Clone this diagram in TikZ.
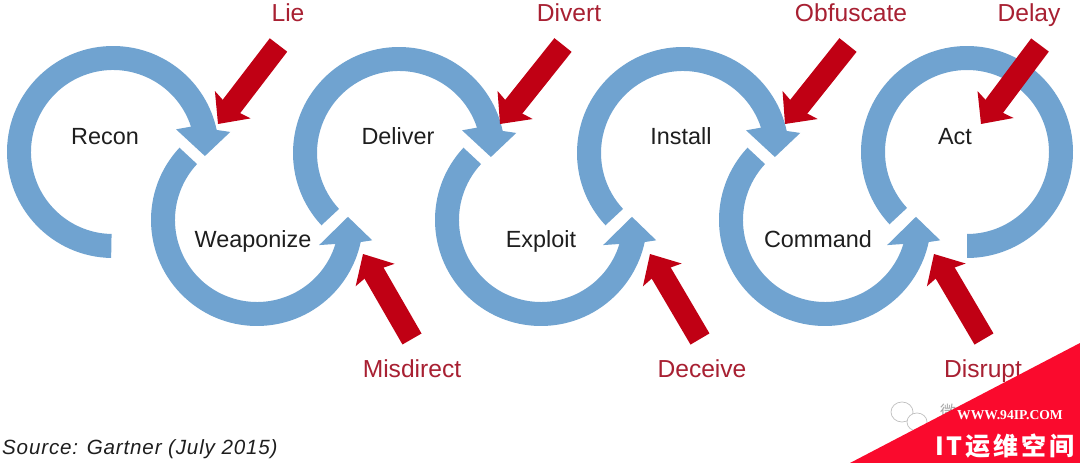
\documentclass[tikz,border=0pt]{standalone}
\usepackage{fontspec}
\setmainfont{Liberation Sans}
\newfontfamily\cjkfont{Noto Sans CJK SC}
\newfontfamily\brandfont[LetterSpace=12]{Noto Sans CJK SC}
\newfontfamily\markfont{Liberation Serif}
\newfontfamily\sourcefont[LetterSpace=4]{Liberation Sans}
\usetikzlibrary{arrows.meta}
\definecolor{ringblue}{RGB}{112, 163, 208}
\definecolor{attackred}{RGB}{192, 0, 20}
\definecolor{labelred}{RGB}{168, 32, 50}
\definecolor{stepblack}{RGB}{30, 30, 30}
\definecolor{bannerred}{RGB}{250, 10, 45}
\tikzset{
  steplabel/.style={anchor=base, text=stepblack, font=\fontsize{23.4}{26}\selectfont},
  tacticlabel/.style={anchor=base, text=labelred, font=\fontsize{24.6}{26}\selectfont},
  redarrow/.style={attackred, line width=22pt, -{Stealth[length=24pt, width=44pt, inset=4pt]}}
}
% ring that runs over the top and ends in a head
\newcommand{\topring}[2]{
  \fill[ringblue, shift={(#1)}] (#2:106) arc[start angle=#2, end angle=12, radius=106pt]
    -- (9.7:119) -- (-2.5:92) -- (19.8:67) -- (18:82)
    arc[start angle=18, end angle=#2, radius=82pt] -- cycle;
}
% ring that runs under the bottom and ends in a head
\newcommand{\bottomring}[1]{
  \fill[ringblue, shift={(#1)}] (137:106) arc[start angle=137, end angle=348, radius=106pt]
    -- (-10:117) -- (2:91) -- (-22:67) -- (-17:82)
    arc[start angle=343, end angle=137, radius=82pt] -- cycle;
}
\begin{document}
\begin{tikzpicture}[x=1pt, y=1pt]
\useasboundingbox (0,0) rectangle (1080,463);
\fill[white] (0,0) rectangle (1080,463);

\topring{113,311}{269}
\bottomring{257,243}
\topring{399,310}{223}
\bottomring{541,243}
\topring{683,310}{223}
\bottomring{825,243}
\fill[ringblue, shift={(967,311)}] (223:106) arc[start angle=223, end angle=-90, radius=106pt]
  -- (-90:82) arc[start angle=-90, end angle=223, radius=82pt] -- cycle;

\node[steplabel] (recon) at (105,318) {Recon};
\node[steplabel] (weaponize) at (253,215) {Weaponize};
\node[steplabel] (deliver) at (398,318) {Deliver};
\node[steplabel] (exploit) at (541,215) {Exploit};
\node[steplabel] (install) at (681,318) {Install};
\node[steplabel] (command) at (818,215) {Command};
\node[steplabel] (act) at (955,318) {Act};

\node[tacticlabel] (lie) at (288,441) {Lie};
\node[tacticlabel] (divert) at (569,441) {Divert};
\node[tacticlabel] (obfuscate) at (851,441) {Obfuscate};
\node[tacticlabel] (delay) at (1029,441) {Delay};
\node[tacticlabel] (misdirect) at (412,85) {Misdirect};
\node[tacticlabel] (deceive) at (702,85) {Deceive};
\node[tacticlabel] (disrupt) at (983,85) {Disrupt};

\coordinate (lietail) at (278.5,418);
\coordinate (lietip) at (218,339);
\coordinate (diverttail) at (563,418);
\coordinate (diverttip) at (500,339);
\coordinate (obfuscatetail) at (848,418);
\coordinate (obfuscatetip) at (785,339);
\coordinate (delaytail) at (1040,418);
\coordinate (delaytip) at (981,339);
\coordinate (misdirecttail) at (412,124);
\coordinate (misdirecttip) at (363,209);
\coordinate (deceivetail) at (700,124);
\coordinate (deceivetip) at (650,209);
\coordinate (disrupttail) at (984,124);
\coordinate (disrupttip) at (934,209);
\draw[redarrow] (lietail) -- (lietip);
\draw[redarrow] (diverttail) -- (diverttip);
\draw[redarrow] (obfuscatetail) -- (obfuscatetip);
\draw[redarrow] (delaytail) -- (delaytip);
\draw[redarrow] (misdirecttail) -- (misdirecttip);
\draw[redarrow] (deceivetail) -- (deceivetip);
\draw[redarrow] (disrupttail) -- (disrupttip);

\node[anchor=base west, inner sep=0pt, text=stepblack, font=\sourcefont\fontsize{20.6}{24}\selectfont\itshape] (source) at (2,8) {Source: Gartner (July 2015)};

% watermark in the corner
\draw[gray!50, line width=0.7pt] (902,51) ellipse[x radius=11pt, y radius=10pt];
\draw[gray!50, line width=0.7pt, fill=white] (917,41) ellipse[x radius=10pt, y radius=9pt];
\node[anchor=base west, inner sep=0pt, text=gray!70, font=\cjkfont\fontsize{16}{16}\selectfont] (wechat) at (940,45) {微};
\fill[bannerred] (850,0) -- (1080,120) -- (1080,0) -- cycle;
\node[anchor=base, text=white, font=\markfont\bfseries\fontsize{13.6}{14}\selectfont] (site) at (1010,43) {WWW.94IP.COM};
\node[anchor=base, text=white, font=\brandfont\bfseries\fontsize{25}{25}\selectfont] (brand) at (1005,7) {IT运维空间};
\end{tikzpicture}
\end{document}
